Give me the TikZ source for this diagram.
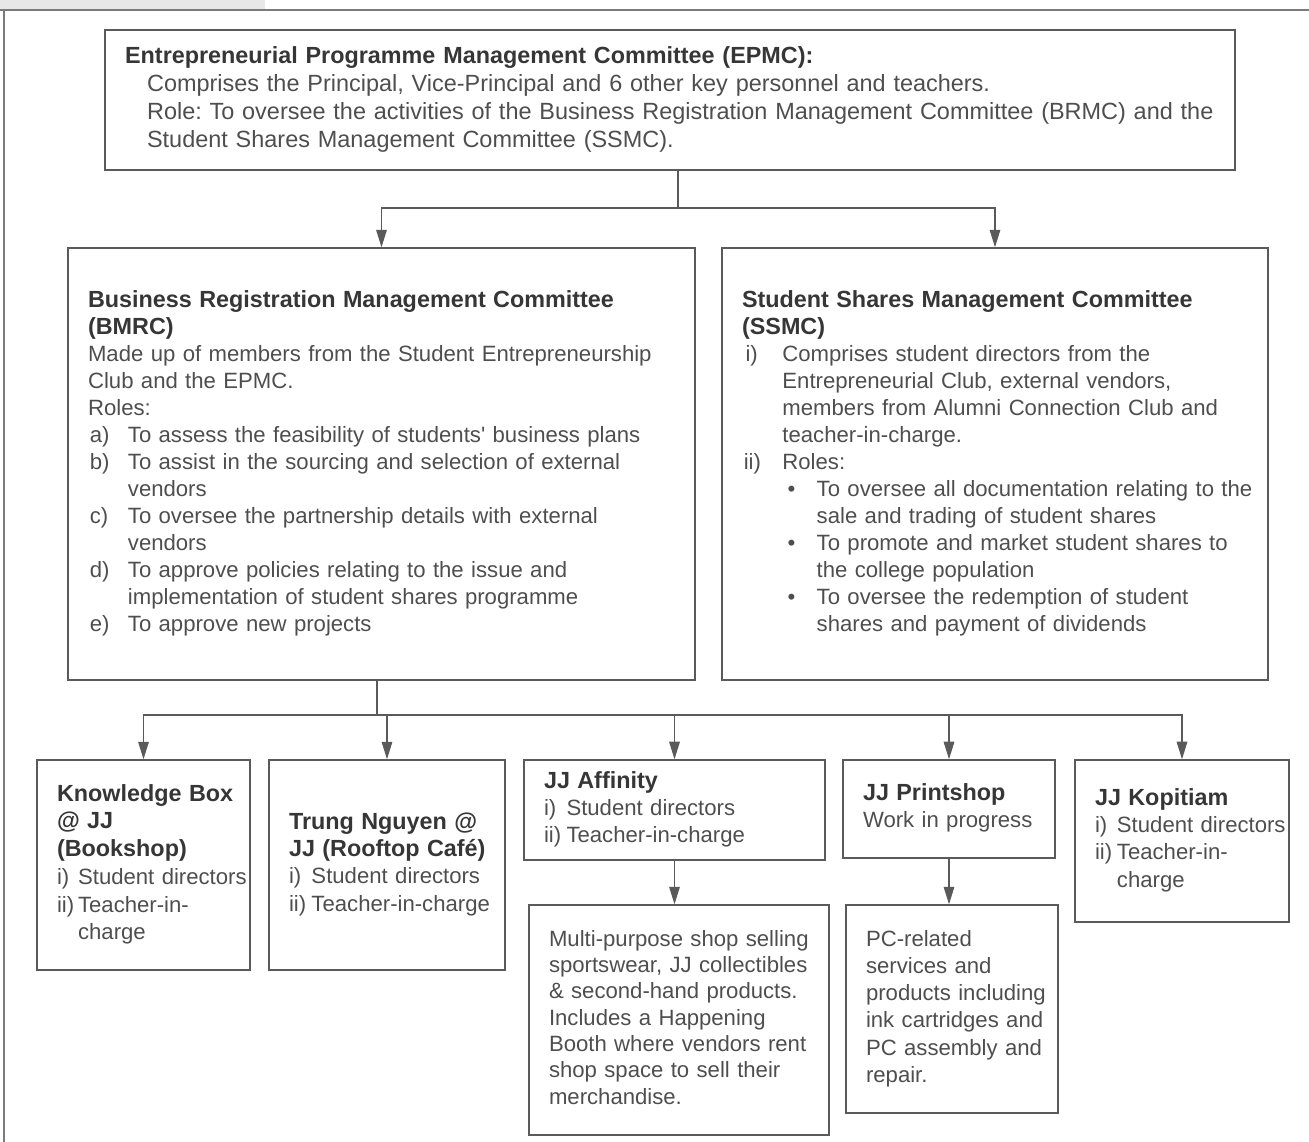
\documentclass[tikz,border=0pt]{standalone}
\usepackage{fontspec}
\setmainfont{Liberation Sans}
\usetikzlibrary{arrows.meta}
\definecolor{ink}{HTML}{4E4E4E}
\definecolor{tink}{HTML}{363636}
\definecolor{rulec}{HTML}{5A5A5A}
\newcommand\lab[2]{\makebox[#1][l]{#2}}
\newcommand\ttl[1]{{\fontsize{13.3}{15.4}\selectfont\bfseries\color{tink}#1}}
\frenchspacing
\begin{document}
\begin{tikzpicture}[x=0.02cm,y=-0.02cm,
  boxn/.style={draw=rulec, line width=0.8pt, text=ink, align=left, inner xsep=0.4cm, inner ysep=0pt,
    font=\fontsize{12.6}{15.4}\selectfont},
  arr/.style={draw=rulec, line width=0.8pt, -{Triangle[width=6pt,length=10pt]}},
  lin/.style={draw=rulec, line width=0.8pt}]
\useasboundingbox (0,0) rectangle (1309,1142);
\fill[gray!18] (0,0) rectangle (265,9);
\draw[rulec!80, line width=0.8pt] (0,10) -- (1309,10);
\draw[rulec!80, line width=0.8pt] (4,10) -- (4,1142);

% EPMC
\node[boxn, minimum width=22.6cm, minimum height=2.8cm, text width=21.8cm,
  font=\fontsize{13.35}{15.9}\selectfont] (epmc) at (670,100) {%
\begin{tabular}{@{}l@{}}
\ttl{Entrepreneurial Programme Management Committee (EPMC):}\\
\hspace*{12.5pt}Comprises the Principal, Vice-Principal and 6 other key personnel and teachers.\\
\hspace*{12.5pt}Role: To oversee the activities of the Business Registration Management Committee (BRMC) and the\\
\hspace*{12.5pt}Student Shares Management Committee (SSMC).
\end{tabular}};

% BMRC
\node[boxn, minimum width=12.54cm, minimum height=8.64cm, text width=11.74cm] (bmrc) at (381.5,464) {%
\begin{tabular}{@{}l@{}}
\ttl{Business Registration Management Committee}\\
\ttl{(BMRC)}\\
Made up of members from the Student Entrepreneurship\\
Club and the EPMC.\\
Roles:\\
\lab{22.7pt}{\hspace{1pt}a)}To assess the feasibility of students\textquotesingle{} business plans\\
\lab{22.7pt}{\hspace{1pt}b)}To assist in the sourcing and selection of external\\
\hspace*{22.7pt}vendors\\
\lab{22.7pt}{\hspace{1pt}c)}To oversee the partnership details with external\\
\hspace*{22.7pt}vendors\\
\lab{22.7pt}{\hspace{1pt}d)}To approve policies relating to the issue and\\
\hspace*{22.7pt}implementation of student shares programme\\
\lab{22.7pt}{\hspace{1pt}e)}To approve new projects
\end{tabular}};

% SSMC
\node[boxn, minimum width=10.92cm, minimum height=8.64cm, text width=10.12cm] (ssmc) at (995,464) {%
\begin{tabular}{@{}l@{}}
\ttl{Student Shares Management Committee}\\
\ttl{(SSMC)}\\
\lab{23pt}{\hspace{2pt}i)}Comprises student directors from the\\
\hspace*{23pt}Entrepreneurial Club, external vendors,\\
\hspace*{23pt}members from Alumni Connection Club and\\
\hspace*{23pt}teacher-in-charge.\\
\lab{23pt}{\hspace{1pt}ii)}Roles:\\
\hspace*{23pt}\lab{19.5pt}{\hspace{3pt}\textbullet}To oversee all documentation relating to the\\
\hspace*{42.5pt}sale and trading of student shares\\
\hspace*{23pt}\lab{19.5pt}{\hspace{3pt}\textbullet}To promote and market student shares to\\
\hspace*{42.5pt}the college population\\
\hspace*{23pt}\lab{19.5pt}{\hspace{3pt}\textbullet}To oversee the redemption of student\\
\hspace*{42.5pt}shares and payment of dividends
\end{tabular}};

% Knowledge Box
\node[boxn, minimum width=4.26cm, minimum height=4.2cm, text width=3.46cm,
  font=\fontsize{12.6}{15.8}\selectfont] (kb) at (143.5,865) {%
\begin{tabular}{@{}l@{}}
\ttl{Knowledge Box}\\
\ttl{@ JJ}\\
\ttl{(Bookshop)}\\
\lab{12pt}{i)}Student directors\\
\lab{12pt}{ii)}Teacher-in-\\
\hspace*{12pt}charge
\end{tabular}};

% Trung Nguyen
\node[boxn, minimum width=4.72cm, minimum height=4.2cm, text width=3.92cm] (tn) at (387,865) {%
\begin{tabular}{@{}l@{}}
\ttl{Trung Nguyen @}\\
\ttl{JJ (Rooftop Café)}\\
\lab{12.8pt}{i)}Student directors\\
\lab{12.8pt}{ii)}Teacher-in-charge
\end{tabular}};

% JJ Affinity
\node[boxn, minimum width=6.02cm, minimum height=2.0cm, text width=5.22cm] (aff) at (674.5,810) {%
\begin{tabular}{@{}l@{}}
\ttl{JJ Affinity}\\
\lab{12.8pt}{i)}Student directors\\
\lab{12.8pt}{ii)}Teacher-in-charge
\end{tabular}};

% JJ Printshop
\node[boxn, minimum width=4.24cm, minimum height=1.96cm, text width=3.44cm] (print) at (949,809) {%
\begin{tabular}{@{}l@{}}
\ttl{JJ Printshop}\\
Work in progress
\end{tabular}};

% JJ Kopitiam
\node[boxn, minimum width=4.28cm, minimum height=3.24cm, text width=3.48cm] (kop) at (1182,841) {%
\begin{tabular}{@{}l@{}}
\ttl{JJ Kopitiam}\\
\lab{12.5pt}{i)}Student directors\\
\lab{12.5pt}{ii)}Teacher-in-\\
\hspace*{12.5pt}charge
\end{tabular}};

% Multi-purpose
\node[boxn, minimum width=6.0cm, minimum height=4.6cm, text width=5.2cm,
  font=\fontsize{12.6}{15.0}\selectfont] (multi) at (679,1020) {%
\begin{tabular}{@{}l@{}}
Multi-purpose shop selling\\
sportswear, JJ collectibles\\
\& second-hand products.\\
Includes a Happening\\
Booth where vendors rent\\
shop space to sell their\\
merchandise.
\end{tabular}};

% PC-related
\node[boxn, minimum width=4.24cm, minimum height=4.16cm, text width=3.44cm] (pc) at (952,1009) {%
\begin{tabular}{@{}l@{}}
PC-related\\
services and\\
products including\\
ink cartridges and\\
PC assembly and\\
repair.
\end{tabular}};

% connectors
\coordinate (j1) at (678,208);
\draw[lin] (epmc.south -| j1) -- (j1);
\draw[arr] (j1) -| (bmrc.north);
\draw[arr] (j1) -| (ssmc.north);

\coordinate (j2) at (377,715);
\draw[lin] (bmrc.south -| j2) -- (j2);
\draw[arr] (j2) -| (kb.north);
\draw[arr] (j2) -| (tn.north);
\draw[arr] (j2) -| (aff.north);
\draw[arr] (j2) -| (print.north);
\draw[arr] (j2) -| (kop.north);

\draw[arr] (aff.south) -- (aff.south |- multi.north);
\draw[arr] (print.south) -- (print.south |- pc.north);
\end{tikzpicture}
\end{document}
